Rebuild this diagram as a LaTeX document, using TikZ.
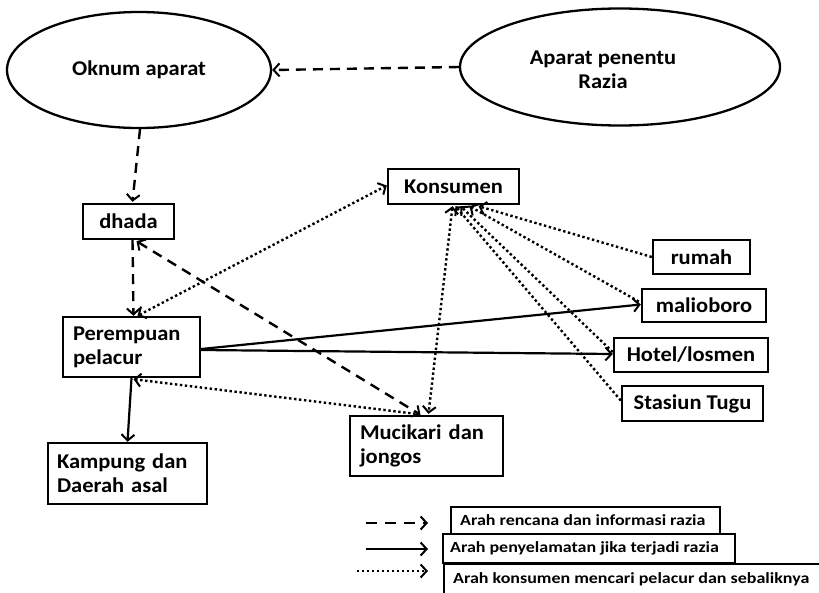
\documentclass[tikz,border=0pt]{standalone}
\usepackage{fontspec}
\setmainfont{Carlito}
\newfontfamily\labelfont{Carlito Bold}[FakeStretch=1.07]
\newfontfamily\keyfont{Carlito Bold}[FakeStretch=1.16]
\usetikzlibrary{arrows.meta,shapes.geometric,calc}
\begin{document}
\begin{tikzpicture}[x=1pt,y=-1pt,
  every node/.style={font=\labelfont\fontsize{21}{24}\selectfont, inner sep=0pt},
  oval/.style={draw, ellipse, line width=2.3pt},
  box/.style={draw, rectangle, line width=2.4pt},
  legbox/.style={draw, rectangle, line width=2.2pt},
  legtext/.style={anchor=west, font=\keyfont\fontsize{15.5}{18}\selectfont},
  tip/.style={-{Straight Barb[length=6pt,width=13pt,line width=2pt]}},
  twotips/.style={{Straight Barb[length=6pt,width=13pt,line width=2pt]}-{Straight Barb[length=6pt,width=13pt,line width=2pt]}},
  plan/.style={line width=2.4pt, dash pattern=on 10pt off 7pt},
  rescue/.style={line width=2.2pt},
  seek/.style={line width=2.4pt, dash pattern=on 2.4pt off 2.6pt}
]
\useasboundingbox (0,0) rectangle (819,592);

% ovals
\node[oval, minimum width=264, minimum height=116] (oknum) at (139,70) {Oknum aparat};
\node[oval, minimum width=320, minimum height=117] (penentu) at (620,67) {};
\node[align=center] (penentutext) at (603,70) {Aparat penentu\\Razia};

% boxes
\node[box, minimum width=91, minimum height=35] (dhada) at (128.5,221.5) {dhada};
\node[box, minimum width=131, minimum height=35] (konsumen) at (453.5,186.5) {Konsumen};
\node[box, minimum width=97, minimum height=34] (rumah) at (701.5,257) {rumah};
\node[box, minimum width=124, minimum height=33] (malioboro) at (704,305.5) {malioboro};
\node[box, minimum width=154, minimum height=34] (hotel) at (691,355) {Hotel/losmen};
\node[box, minimum width=141, minimum height=35] (stasiun) at (692.5,403.5) {Stasiun Tugu};
\node[box, minimum width=137, minimum height=60, text width=117, align=left] (perempuan) at (131.5,347) {Perempuan\\pelacur};
\node[box, minimum width=159, minimum height=61, text width=141, align=left] (kampung) at (127.5,473.5) {Kampung dan\\Daerah asal};
\node[box, minimum width=153, minimum height=60, text width=133, align=left] (mucikari) at (426.5,446) {Mucikari dan\\jongos};

% legend boxes and their texts
\node[legbox, minimum width=269, minimum height=27] (leg1) at (585.5,520.5) {};
\node[legbox, minimum width=292, minimum height=29] (leg2) at (589,548.5) {};
\node[legbox, minimum width=387, minimum height=37, anchor=north west] (leg3) at (443,563) {};
\node[legtext] (leg1text) at ($(leg1.west)+(10,0)$) {Arah rencana dan informasi razia};
\node[legtext] (leg2text) at ($(leg2.west)+(8,0)$) {Arah penyelamatan jika terjadi razia};
\node[legtext] (leg3text) at ($(leg3.north west)+(10,16)$) {Arah konsumen mencari pelacur dan sebaliknya};

% legend samples
\coordinate (l1a) at (366,523); \coordinate (l1b) at (428,523);
\coordinate (l2a) at (366,549); \coordinate (l2b) at (428,549);
\coordinate (l3a) at (357,571); \coordinate (l3b) at (428,571);
\draw[plan, dash pattern=on 11pt off 8pt, tip] (l1a) -- (l1b);
\draw[rescue, tip] (l2a) -- (l2b);
\draw[seek, tip] (l3a) -- (l3b);

% plans and information on raids
\draw[plan, tip] (penentu.west) -- (oknum.east);
\draw[plan, tip] ($(oknum.south)+(1,0)$) -- ($(dhada.north)+(4,-1)$);
\draw[plan, tip] ($(dhada.south)+(4,0)$) -- ($(perempuan.north)+(2,0)$);
\draw[plan, twotips] ($(dhada.south)+(8,1)$) -- ($(mucikari.north)+(-6,0)$);

% escape routes when a raid happens
\draw[rescue, tip] (perempuan.south) -- (kampung.north);
\draw[rescue, tip] ($(perempuan.east)+(0,2)$) -- ($(malioboro.west)+(0,-1)$);
\draw[rescue, tip] ($(perempuan.east)+(0,3)$) -- ($(hotel.west)+(0,-1)$);

% clients looking for women and the other way round
\draw[seek, twotips] ($(perempuan.north)+(6,0)$) -- ($(konsumen.west)+(0,-1)$);
\draw[seek, tip] ($(mucikari.north)+(-11,-1)$) -- ($(perempuan.south)+(2,1)$);
\draw[seek, twotips] ($(konsumen.south)+(-1,1)$) -- ($(mucikari.north)+(2,-1)$);
\draw[seek, tip] (rumah.west) -- ($(konsumen.south)+(25,1)$);
\draw[seek, tip] ($(malioboro.west)+(-2,-4)$) -- ($(konsumen.south)+(16,1)$);
\draw[seek, tip] ($(hotel.west)+(0,-3)$) -- ($(konsumen.south)+(7,1)$);
\draw[seek, tip] ($(stasiun.west)+(0,-3)$) -- ($(konsumen.south)+(2,1)$);
\end{tikzpicture}
\end{document}
